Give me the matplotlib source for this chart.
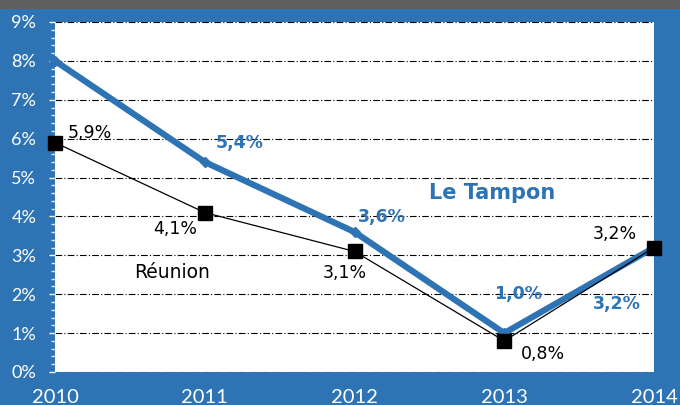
import matplotlib
matplotlib.use("Agg")
import matplotlib.pyplot as plt
from matplotlib.patches import Rectangle
from matplotlib.ticker import MultipleLocator, FuncFormatter

plt.rcParams['font.family'] = ['Lato', 'DejaVu Sans']

years = [2010, 2011, 2012, 2013, 2014]
tampon = [8.0, 5.4, 3.6, 1.0, 3.2]
reunion = [5.9, 4.1, 3.1, 0.8, 3.2]
tampon_labels = [None, "5,4%", "3,6%", "1,0%", "3,2%"]
reunion_labels = ["5,9%", "4,1%", "3,1%", "0,8%", "3,2%"]

BLUE = "#2E74B5"
BG = "#2E74B5"
LABEL_FONT = ['DejaVu Sans']

fig = plt.figure(figsize=(6.8, 4.05), dpi=100)
fig.patch.set_facecolor(BG)
# dark band across the top edge
fig.patches.append(Rectangle((0, 1 - 9 / 405), 1, 9 / 405, transform=fig.transFigure,
                             facecolor="#5F5F5F", edgecolor="none", zorder=0))

ax = fig.add_axes([55 / 680, 33 / 405, 599 / 680, 350 / 405])
ax.set_facecolor("white")
for s in ax.spines.values():
    s.set_visible(False)

ax.set_xlim(2010, 2014)
ax.set_ylim(0, 9)

ax.yaxis.set_major_locator(MultipleLocator(1))
ax.yaxis.set_minor_locator(MultipleLocator(0.2))
ax.yaxis.set_major_formatter(FuncFormatter(lambda v, p: f"{int(round(v))}%"))
ax.set_xticks(years)
ax.set_xticklabels([str(y) for y in years])

ax.tick_params(axis="y", which="major", colors="white", length=4.5, width=1,
               labelsize=13, pad=9)
ax.tick_params(axis="y", which="minor", colors="#DCE8F4", length=3, width=1)
ax.tick_params(axis="x", which="both", length=0, colors="white", labelsize=14.5, pad=12)

ax.grid(axis="y", which="major", color="black", linestyle=(0, (6, 2, 1, 2)), linewidth=0.8)
ax.set_axisbelow(True)

ax.plot(years, tampon, color=BLUE, linewidth=4.5, marker="D", markersize=5,
        clip_on=False, zorder=3)
ax.plot(years, reunion, color="black", linewidth=0.9, marker="s", markersize=10,
        clip_on=False, zorder=4)

# value labels, offset from each point (points)
reunion_off = [(25, 7), (-21.5, -12), (-7, -15.5), (28, -9.5), (-28, 9.7)]
tampon_off = [None, (25.4, 13.6), (19.8, 10.8), (9.9, 28), (-26.6, -40.7)]

for x, v, lab, off in zip(years, reunion, reunion_labels, reunion_off):
    ax.annotate(lab, (x, v), xytext=off, textcoords="offset points",
                ha="center", va="center", fontsize=12.5, color="black", zorder=5,
                family=LABEL_FONT, annotation_clip=False)
for x, v, lab, off in zip(years, tampon, tampon_labels, tampon_off):
    if lab is None:
        continue
    ax.annotate(lab, (x, v), xytext=off, textcoords="offset points",
                ha="center", va="center", fontsize=12.5, color=BLUE,
                fontweight="bold", family=LABEL_FONT, zorder=5,
                annotation_clip=False)

ax.text(2012.92, 4.60, "Le Tampon", color=BLUE, fontsize=15, fontweight="bold",
        family=LABEL_FONT, ha="center", va="center")
ax.text(2010.78, 2.57, "Réunion", color="black", fontsize=13.5,
        family=LABEL_FONT, ha="center", va="center")

fig.savefig("out.png", dpi=100, facecolor=fig.get_facecolor())
